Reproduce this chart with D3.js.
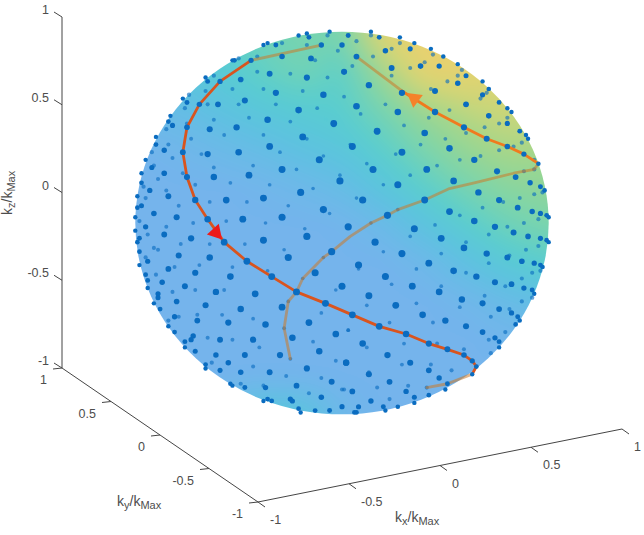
<!DOCTYPE html>
<html>
<head>
<meta charset="utf-8">
<script src="https://cdn.jsdelivr.net/npm/d3@7"></script>
<style>
html,body{margin:0;padding:0;background:#fff}
text{font-family:"Liberation Sans",Arial,sans-serif;fill:#4d4d4d}
</style>
</head>
<body>
<svg id="chart" width="644" height="535"></svg>
<script>
// Sampling directions on the k-space sphere, as seen along the view axis.
// Each pair is [horizontal, vertical] in percent of kMax.
const nearDots = [[-21,98],[-17,99],[-16,97],[-6,100],[3,98],[0,93],[-32,93],[-38,93],[-36,94],[-10,93],[-44,85],[-53,85],[-52,85],[-29,87],[-15,86],[1,79],[-35,78],[-17,76],[-49,75],[-59,74],[-65,74],[-66,76],[-75,63],[-77,65],[-69,62],[-60,62],[-47,64],[-32,68],[-9,67],[-21,59],[-84,53],[-83,56],[-82,51],[-75,50],[-64,49],[-51,50],[-36,54],[-4,52],[-90,45],[-90,41],[-86,38],[-77,37],[-65,36],[-50,37],[-35,40],[-19,45],[-11,33],[-95,33],[-92,29],[-97,26],[-86,26],[-75,24],[-62,24],[-45,25],[-29,28],[-1,22],[-97,21],[-93,17],[-84,14],[-71,12],[-56,12],[-38,13],[-20,16],[-99,14],[-97,9],[-99,8],[-91,5],[-9,7],[-80,3],[-65,2],[-48,2],[-29,3],[-100,3],
[14,100],[18,97],[28,97],[35,94],[33,91],[21,90],[7,87],[43,91],[49,87],[47,82],[38,82],[24,81],[56,83],[60,77],[56,73],[68,74],[71,70],[68,67],[45,69],[29,68],[13,72],[76,63],[80,60],[82,58],[60,62],[71,56],[80,52],[7,61],[27,58],[45,58],[86,48],[89,46],[90,44],[59,50],[17,48],[40,47],[70,44],[5,40],[52,39],[29,37],[80,40],[88,36],[64,33],[15,28],[95,31],[41,28],[75,27],[84,24],[54,22],[27,20],[91,21],[96,19],[98,17],[66,16],[10,12],[40,12],[76,12],[85,8],[92,6],[52,6],[22,4],[96,5],[99,4],[100,3],
[-100,-4],[-95,-2],[-86,-6],[-98,-8],[-99,-10],[-98,-15],[-73,-8],[-79,-17],[-64,-18],[-38,-9],[-17,-7],[-26,-18],[-5,-15],[-57,-10],[-46,-20],[-34,-28],[-13,-26],[-94,-20],[-98,-22],[-84,-24],[-71,-26],[-54,-28],[-95,-27],[-94,-30],[-87,-31],[-94,-34],[-76,-33],[-61,-36],[-42,-37],[-22,-36],[0,-33],[-89,-37],[-89,-39],[-80,-41],[-91,-42],[-66,-43],[-49,-45],[-29,-44],[-8,-42],[-88,-45],[-81,-49],[-70,-51],[-55,-52],[-37,-53],[-16,-52],[-84,-54],[-81,-57],[-3,-58],[-72,-59],[-73,-61],[-59,-61],[-43,-61],[-24,-60],[-76,-62],[-76,-65],[-71,-67],[-11,-67],[-47,-69],[-30,-69],[-61,-69],[2,-73],[-66,-74],[-66,-76],[-59,-77],[-17,-76],[-49,-78],[-35,-78],[-55,-73],[-54,-84],[-53,-85],[-47,-86],[-37,-86],[-22,-85],[-5,-83],[-38,-93],[-36,-92],[-34,-93],[-25,-92],[-24,-93],[-10,-91],[0,-96],[-21,-97],[-20,-99],[-13,-98],[-6,-98],
[3,-2],[16,-10],[35,-3],[48,-8],[64,1],[74,-2],[83,-5],[90,-7],[96,-8],[99,-9],[100,-10],[59,-13],[70,-16],[80,-18],[87,-20],[29,-16],[42,-21],[93,-21],[96,-22],[97,-23],[8,-22],[54,-25],[65,-28],[21,-28],[74,-31],[82,-32],[88,-34],[92,-35],[93,-37],[34,-33],[47,-36],[13,-38],[58,-40],[68,-42],[26,-43],[76,-45],[82,-47],[39,-48],[85,-49],[86,-51],[5,-48],[50,-51],[18,-54],[60,-54],[84,-53],[68,-57],[31,-58],[42,-63],[74,-60],[76,-62],[76,-65],[10,-63],[51,-66],[59,-69],[22,-69],[2,-73],[33,-73],[63,-72],[65,-75],[13,-79],[42,-77],[63,-79],[47,-81],[23,-83],[51,-84],[50,-87],[31,-88],[5,-88],[42,-90],[35,-91],[14,-93],[35,-94],[27,-96],[20,-96],[21,-98],[8,-96],[6,-99],[7,-99]];

const farDots = [[-29,94],[-17,93],[-7,98],[-2,90],[-13,85],[-25,78],[-7,76],[-41,79],[-41,87],[-50,86],[-62,77],[-66,69],[-74,67],[-53,70],[-38,70],[-19,69],[1,66],[-65,62],[-50,62],[-32,62],[-12,60],[-76,60],[-62,54],[-45,55],[-25,53],[-4,51],[-85,49],[-75,52],[-57,46],[-38,46],[-17,44],[-73,44],[-84,41],[-92,37],[-68,36],[-30,37],[-82,34],[-9,35],[-62,29],[-43,30],[-22,28],[-91,30],[-77,26],[-1,25],[-89,23],[-54,21],[-35,20],[-71,20],[-96,19],[-14,18],[-85,17],[-95,13],[-64,11],[-46,11],[-26,9],[-79,9],[-6,5],
[7,95],[14,98],[28,94],[24,91],[15,87],[44,88],[40,84],[33,81],[24,77],[5,82],[58,80],[56,77],[51,74],[70,68],[67,65],[43,70],[21,62],[52,59],[42,55],[80,55],[76,52],[9,57],[30,51],[69,50],[60,47],[50,44],[17,47],[38,41],[4,41],[26,36],[87,42],[83,40],[76,38],[57,33],[67,35],[12,31],[93,33],[46,30],[33,25],[20,20],[88,27],[93,28],[97,16],[93,15],[86,13],[7,13],[78,11],[68,8],[57,4],[27,7],
[-98,1],[-94,-6],[-85,-2],[-72,0],[-56,1],[-37,0],[-18,-3],[-78,-11],[-89,-14],[-91,-13],[-64,-11],[-47,-11],[-28,-14],[-9,-18],[-95,-18],[-81,-23],[-69,-22],[-53,-23],[-36,-25],[-19,-29],[-90,-27],[-71,-35],[-82,-36],[-57,-35],[-3,-35],[-26,-41],[-70,-48],[-58,-48],[-10,-47],[-43,-50],[-79,-49],[-84,-51],[-28,-55],[3,-56],[-65,-60],[-53,-61],[-14,-62],[-40,-65],[-3,-72],[-43,-75],[-63,-73],[-27,-80],[-10,-81],[-49,-84],[-38,-85],[-16,-89],[1,-87],[-25,-71],
[14,0],[45,-1],[33,-7],[71,-6],[80,-2],[88,0],[95,2],[60,-10],[95,-12],[89,-14],[20,-15],[48,-16],[81,-17],[71,-21],[36,-24],[8,-24],[60,-26],[92,-26],[96,-25],[87,-29],[79,-33],[24,-32],[48,-33],[69,-38],[92,-39],[36,-42],[57,-44],[12,-43],[81,-45],[87,-41],[72,-49],[44,-52],[23,-52],[3,-56],[79,-57],[71,-61],[46,-63],[30,-63],[12,-65],[59,-66],[72,-68],[29,-74],[43,-74],[53,-77],[13,-78],[32,-85],[17,-86],[0,-87],[23,-92],[41,-86]];

// Trajectories, in the same view-plane percent units.
const redPathBehindStart = [[-10,93],[-44,85]];
const redPath = [[-44,85],[-59,74],[-69,62],[-75,50],[-77,37],[-75,24],[-71,12],[-65,2],[-57,-10],[-46,-20],[-34,-28],[-22,-36],[-8,-42],[5,-48],[18,-54],[31,-58],[42,-63],[51,-66],[59,-69],[63,-72],[65,-75],[63,-79]];
const redPathBehindEnd = [[63,-79],[51,-84],[41,-86]];
const orangePath = [[29,69],[45,58],[59,50],[70,44],[80,40],[88,36],[95,31]];
const orangePathBehind = [[7,87],[29,69]];
const behindPath = [[95,31],[93,28],[83,26],[64,21],[52,18],[40,12],[27,7],[22,4],[14,0],[4,-7],[-5,-15],[-9,-18],[-19,-29],[-22,-36],[-26,-41],[-28,-55],[-25,-71]];

// Direction markers: position plus heading in degrees.
const redArrow = [-61, -5, 18];
const orangeArrow = [35, 65, 187];

// Field value on the sphere, rows top to bottom, columns left to right across the disc.
const surfaceValues = [
  [.30,.30,.35,.45,.50,.50,.92,1,1,1,1],
  [.20,.25,.30,.40,.48,.38,.66,.95,.95,.90,.90],
  [.10,.12,.20,.27,.32,.36,.50,.65,.75,.80,.78],
  [0,.03,.08,.13,.20,.26,.38,.52,.63,.70,.68],
  [0,0,0,.02,.06,.12,.25,.38,.50,.58,.60],
  [0,0,0,0,0,.01,.08,.22,.35,.46,.52],
  [0,0,0,0,0,0,0,.05,.18,.30,.36],
  [0,0,0,0,0,0,0,0,.03,.10,.16],
  [0,0,0,0,0,0,0,0,0,.02,.03],
  [0,0,0,0,0,0,0,0,0,0,0],
  [0,.05,.10,.28,.25,.05,0,0,0,0,0]
];

const axisTicks = [-1, -0.5, 0, 0.5, 1];
const axisTickLabels = ["-1", "-0.5", "0", "0.5", "1"];

// Projected corners of the 3-D axes box.
const corner = {
  zTop: [62, 17], zBottom: [62, 368],
  xStart: [258, 502], xEnd: [622, 429]
};

const svg = d3.select("#chart");

// Axis scales along each projected edge.
const xAxisPx = d3.scaleLinear().domain([-1, 1]).range([corner.xStart[0], corner.xEnd[0]]);
const xAxisPy = d3.scaleLinear().domain([-1, 1]).range([corner.xStart[1], corner.xEnd[1]]);
const yAxisPx = d3.scaleLinear().domain([1, -1]).range([corner.zBottom[0], corner.xStart[0]]);
const yAxisPy = d3.scaleLinear().domain([1, -1]).range([corner.zBottom[1], corner.xStart[1]]);
const zAxisPy = d3.scaleLinear().domain([1, -1]).range([corner.zTop[1], corner.zBottom[1]]);

// The unit sphere projects orthographically to an ellipse fixed by the axis edges.
const ex = [(corner.xEnd[0] - corner.xStart[0]) / 2, (corner.xEnd[1] - corner.xStart[1]) / 2];
const ey = [(corner.zBottom[0] - corner.xStart[0]) / 2, (corner.zBottom[1] - corner.xStart[1]) / 2];
const ez = (corner.zBottom[1] - corner.zTop[1]) / 2;
const cxSphere = (corner.xEnd[0] + corner.zBottom[0]) / 2;
const cySphere = (corner.xEnd[1] + corner.zBottom[1]) / 2 - ez;
const rx = Math.hypot(ex[0], ey[0]);
const ry = Math.hypot(ex[1], ey[1], ez);

const viewX = d3.scaleLinear().domain([-100, 100]).range([cxSphere - rx, cxSphere + rx]);
const viewY = d3.scaleLinear().domain([-100, 100]).range([cySphere + ry, cySphere - ry]);

// Surface colouring.
const surfaceColor = d3.scaleLinear()
  .domain([0, .2, .35, .5, .65, .8, 1])
  .range(["#74b4ec", "#5cc2e0", "#58cdd0", "#78d4ae", "#9cd68e", "#d0d676", "#ecd06e"]);

function sampleSurface(h, v) {
  const n = surfaceValues.length - 1;
  const col = Math.max(0, Math.min(n, (h + 1) / 2 * n));
  const row = Math.max(0, Math.min(n, (1 - v) / 2 * n));
  const c0 = Math.min(n - 1, Math.floor(col)), r0 = Math.min(n - 1, Math.floor(row));
  const fc = col - c0, fr = row - r0;
  const top = surfaceValues[r0][c0] * (1 - fc) + surfaceValues[r0][c0 + 1] * fc;
  const bot = surfaceValues[r0 + 1][c0] * (1 - fc) + surfaceValues[r0 + 1][c0 + 1] * fc;
  return top * (1 - fr) + bot * fr;
}

const pad = 40;
const imgX = Math.floor(cxSphere - rx - pad), imgY = Math.floor(cySphere - ry - pad);
const imgW = Math.ceil(2 * rx + 2 * pad), imgH = Math.ceil(2 * ry + 2 * pad);
const canvas = document.createElement("canvas");
canvas.width = imgW; canvas.height = imgH;
const ctx = canvas.getContext("2d");
const pixels = ctx.createImageData(imgW, imgH);
for (let j = 0; j < imgH; j++) {
  for (let i = 0; i < imgW; i++) {
    const c = d3.rgb(surfaceColor(sampleSurface(viewX.invert(imgX + i) / 100, viewY.invert(imgY + j) / 100)));
    const k = (j * imgW + i) * 4;
    pixels.data[k] = c.r; pixels.data[k + 1] = c.g; pixels.data[k + 2] = c.b; pixels.data[k + 3] = 255;
  }
}
ctx.putImageData(pixels, 0, 0);

const defs = svg.append("defs");
defs.append("clipPath").attr("id", "discClip").append("ellipse")
  .attr("cx", cxSphere).attr("cy", cySphere).attr("rx", rx).attr("ry", ry);
defs.append("filter").attr("id", "soften")
  .attr("x", "-5%").attr("y", "-5%").attr("width", "110%").attr("height", "110%")
  .append("feGaussianBlur").attr("stdDeviation", 12);

svg.append("g").attr("clip-path", "url(#discClip)")
  .append("image")
  .attr("href", canvas.toDataURL())
  .attr("x", imgX).attr("y", imgY).attr("width", imgW).attr("height", imgH)
  .attr("filter", "url(#soften)");

// Dot size grows with depth toward the viewer.
const dotRadius = d3.scaleLinear().domain([-1, 0, 1]).range([1.8, 2.2, 3.6]);
const depth = d => Math.sqrt(Math.max(0, 1 - (d[0] * d[0] + d[1] * d[1]) / 10000));

svg.append("g").selectAll("circle").data(farDots).join("circle")
  .attr("cx", d => viewX(d[0])).attr("cy", d => viewY(d[1]))
  .attr("r", d => dotRadius(-depth(d)))
  .attr("fill", "#0a6cc0").attr("fill-opacity", 0.62);

const line = d3.line().x(d => viewX(d[0])).y(d => viewY(d[1]));

// Parts of the trajectories running behind the surface read through it.
svg.append("g").attr("fill", "none").attr("stroke-linejoin", "round").attr("stroke-linecap", "round")
  .selectAll("path").data([behindPath, redPathBehindStart, redPathBehindEnd, orangePathBehind]).join("path")
  .attr("d", line).attr("stroke", "#cc7a28").attr("stroke-opacity", 0.55).attr("stroke-width", 2.8);

const front = svg.append("g").attr("fill", "none").attr("stroke-linejoin", "round").attr("stroke-linecap", "round");
front.append("path").datum(redPath).attr("d", line).attr("stroke", "#d9541e").attr("stroke-width", 2.8);
front.append("path").datum(orangePath).attr("d", line).attr("stroke", "#f07a1e").attr("stroke-width", 2.8);

svg.append("g").selectAll("circle").data(nearDots).join("circle")
  .attr("cx", d => viewX(d[0])).attr("cy", d => viewY(d[1]))
  .attr("r", d => dotRadius(depth(d)))
  .attr("fill", "#0a6cc0");

// Direction arrowheads.
const triangle = d3.symbol().type(d3.symbolTriangle).size(110);
[[redArrow, "#ee1a1a"], [orangeArrow, "#f5822a"]].forEach(([a, color]) => {
  svg.append("path").attr("d", triangle())
    .attr("transform", `translate(${viewX(a[0])},${viewY(a[1])}) rotate(${a[2]})`)
    .attr("fill", color);
});

// Axes box edges.
const axes = svg.append("g").attr("stroke", "#454545").attr("stroke-width", 1).attr("fill", "none");
axes.append("path").attr("d", d3.line()([corner.zTop, corner.zBottom, corner.xStart, corner.xEnd]));

const labels = svg.append("g").attr("font-size", 12.5);
axisTicks.forEach((t, i) => {
  const label = axisTickLabels[i];
  // z axis
  const zy = zAxisPy(t);
  axes.append("line").attr("x1", corner.zTop[0]).attr("y1", zy).attr("x2", corner.zTop[0] - 8).attr("y2", zy - 5);
  labels.append("text").attr("x", 49).attr("y", zy - 3).attr("text-anchor", "end").text(label);
  // y axis
  const yx = yAxisPx(t), yy = yAxisPy(t);
  axes.append("line").attr("x1", yx).attr("y1", yy).attr("x2", yx - 9).attr("y2", yy + 1);
  labels.append("text").attr("x", yx - 15).attr("y", yy + 16).attr("text-anchor", "end").text(label);
  // x axis
  const xx = xAxisPx(t), xy = xAxisPy(t);
  axes.append("line").attr("x1", xx).attr("y1", xy).attr("x2", xx + 7).attr("y2", xy + 5);
  labels.append("text").attr("x", xx + 12).attr("y", xy + 22).attr("text-anchor", "start").text(label);
});

// Axis titles with subscripts.
function axisTitle(letter, x, y, rotate) {
  const t = svg.append("text").attr("font-size", 14)
    .attr("transform", `translate(${x},${y})${rotate ? " rotate(-90)" : ""}`);
  t.append("tspan").text("k");
  t.append("tspan").attr("font-size", 11).attr("dy", 3).text(letter);
  t.append("tspan").attr("dy", -3).text("/k");
  t.append("tspan").attr("font-size", 11).attr("dy", 3).text("Max");
}
axisTitle("y", 117, 506, false);
axisTitle("x", 395, 522, false);
axisTitle("z", 12, 215, true);
</script>
</body>
</html>
